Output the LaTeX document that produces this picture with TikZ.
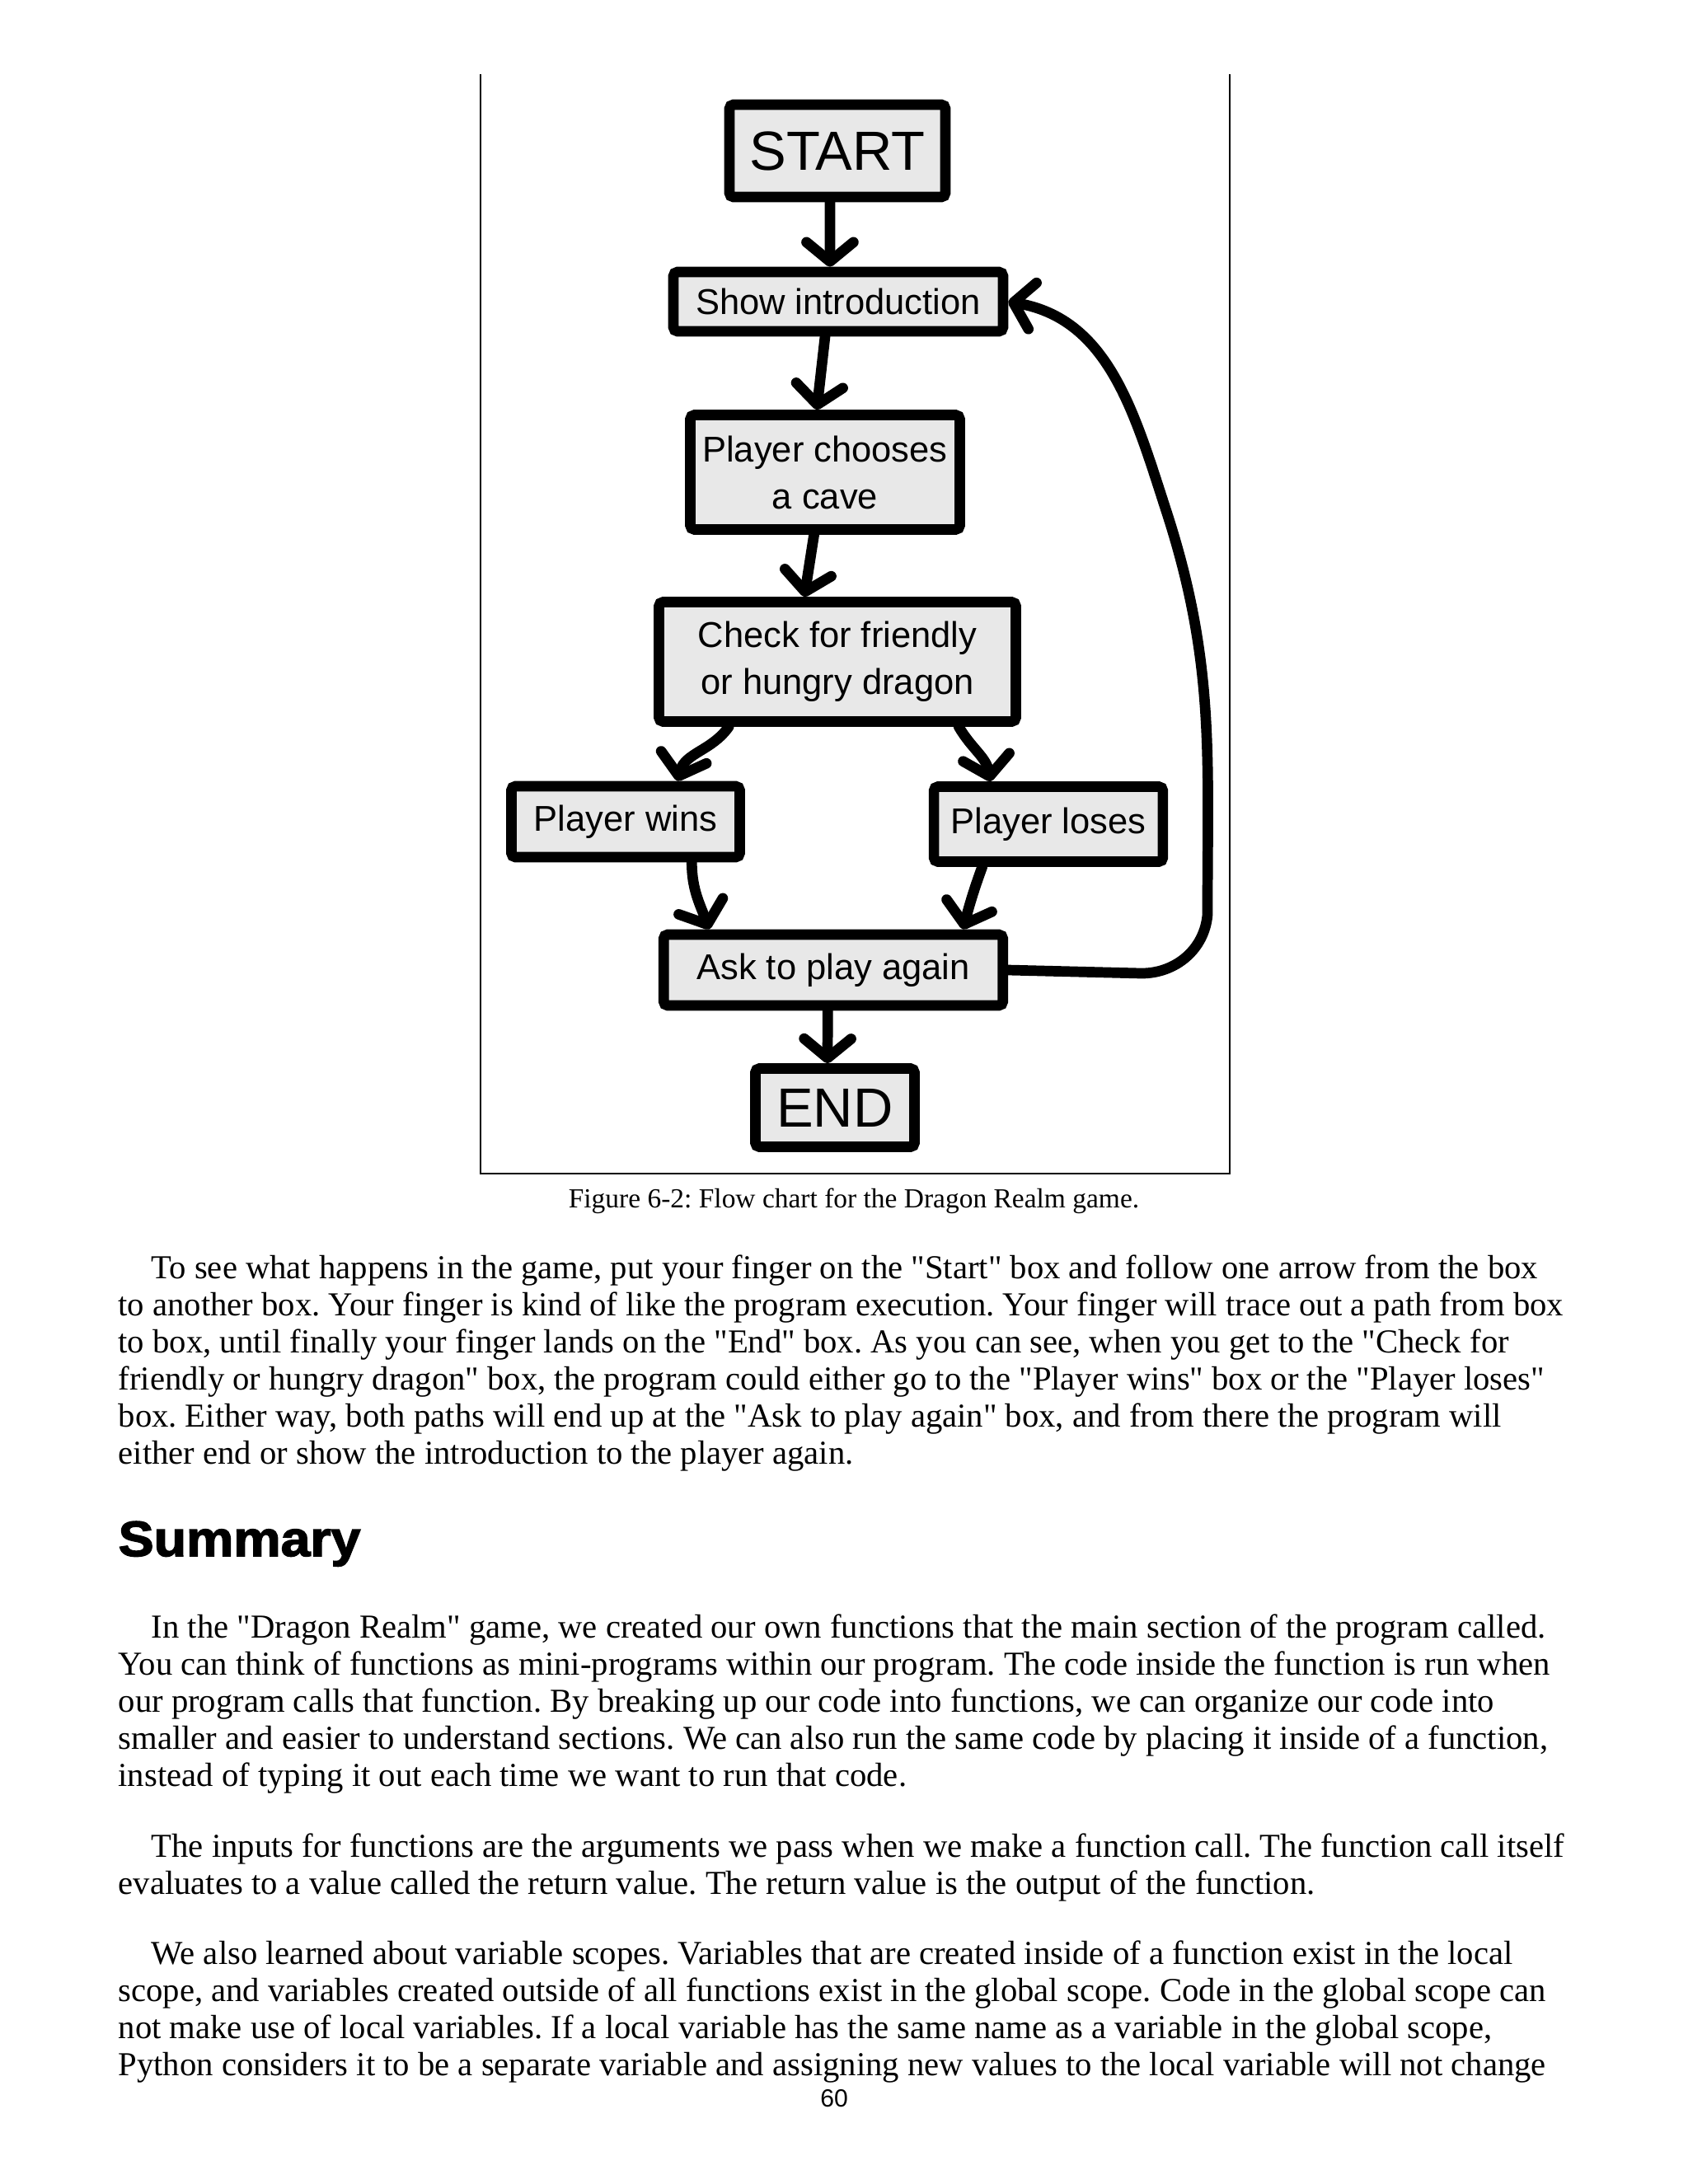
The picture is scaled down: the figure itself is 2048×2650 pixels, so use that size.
\documentclass[tikz,border=0pt]{standalone}
\usepackage{fontspec}
\setmainfont{Liberation Serif}[Ligatures=TeXOff]
\setsansfont{Liberation Sans}
\newfontfamily\headfont{Liberation Sans Bold}[FakeStretch=1.07, FakeBold=2.5]
\usetikzlibrary{arrows.meta}
\frenchspacing

\begin{document}
\begin{tikzpicture}[x=0.29883pt, y=0.29883pt,
        box/.style={draw=black, fill=black!9, line width=3.8pt, rounded corners=1.5pt, align=center, inner sep=0pt, font={\sffamily\fontsize{13}{17}\selectfont}},
        flow/.style={line width=3.8pt, line cap=round, -{Straight Barb[length=7pt, width=17pt, round]}},
        textline/.style={anchor=base west, inner sep=0pt, font={\fontsize{12.15}{14}\selectfont}}]
        \useasboundingbox (0, 0) rectangle (2048, -2650);

        \draw[line width=0.8pt] (583, -90) -- (583, -1424) -- (1492, -1424) -- (1492, -90);

        \node[box, minimum width=78.3pt, minimum height=33.5pt, font={\sffamily\fontsize{20}{24}\selectfont}] (start) at (1016, -183) {START};
        \node[box, minimum width=119.5pt, minimum height=21.5pt] (intro) at (1017, -366) {Show introduction};
        \node[box, minimum width=97.7pt, minimum height=41.5pt] (choose) at (1001, -573) {Player chooses\\a cave};
        \node[box, minimum width=129.4pt, minimum height=43.3pt] (check) at (1016, -803) {Check for friendly\\or hungry dragon};
        \node[box, minimum width=82.8pt, minimum height=25.7pt] (wins) at (759, -997) {Player wins};
        \node[box, minimum width=83pt, minimum height=27.2pt] (loses) at (1272, -1000) {Player loses};
        \node[box, minimum width=123pt, minimum height=25.7pt] (again) at (1011, -1177) {Ask to play again};
        \node[box, minimum width=57.7pt, minimum height=28.4pt, font={\sffamily\fontsize{20}{24}\selectfont}] (finish) at (1013, -1344) {END};

        \draw[flow] ([xshift=-2.7pt]start.south) -- ([xshift=-3pt]intro.north);
        \draw[flow] (choose.north |- intro.south) -- ([xshift=-3pt]choose.north);
        \draw[flow] ([xshift=-4pt]choose.south) -- ([xshift=-12pt]check.north);
        \draw[flow] ([xshift=-39.4pt]check.south) to[out=-125, in=75] ([xshift=18.8pt]wins.north);
        \draw[flow] ([xshift=44pt]check.south) to[out=-60, in=100] ([xshift=-21pt]loses.north);
        \draw[flow] ([xshift=24pt]wins.south) to[out=-90, in=110] ([xshift=-45pt]again.north);
        \draw[flow] ([xshift=-24pt]loses.south) to[out=-110, in=75] ([xshift=47pt]again.north);
        \draw[flow] ([xshift=-2pt]again.south) -- ([xshift=-2.7pt]finish.north);
        \draw[flow] (again.east) -- (1385, -1181) to[out=0, in=-95] (1465, -1110) to[out=90, in=-72] (1415, -620) to[out=108, in=-10] (intro.east);

        \node[anchor=base, inner sep=0pt, font={\fontsize{10}{12}\selectfont}] (caption) at (1036, -1465) {Figure 6-2: Flow chart for the Dragon Realm game.};

        \node[textline] (p1a) at (183, -1551) {To see what happens in the game, put your finger on the "Start" box and follow one arrow from the box};
        \node[textline] (p1b) at (143, -1596) {to another box. Your finger is kind of like the program execution. Your finger will trace out a path from box};
        \node[textline] (p1c) at (143, -1641) {to box, until finally your finger lands on the "End" box. As you can see, when you get to the "Check for};
        \node[textline] (p1d) at (143, -1686) {friendly or hungry dragon" box, the program could either go to the "Player wins" box or the "Player loses"};
        \node[textline] (p1e) at (143, -1731) {box. Either way, both paths will end up at the "Ask to play again" box, and from there the program will};
        \node[textline] (p1f) at (143, -1776) {either end or show the introduction to the player again.};

        \node[anchor=base west, inner sep=0pt, font={\headfont\fontsize{18}{22}\selectfont}] (summary) at (143, -1888) {Summary};

        \node[textline] (p2a) at (183, -1987) {In the "Dragon Realm" game, we created our own functions that the main section of the program called.};
        \node[textline] (p2b) at (143, -2032) {You can think of functions as mini-programs within our program. The code inside the function is run when};
        \node[textline] (p2c) at (143, -2077) {our program calls that function. By breaking up our code into functions, we can organize our code into};
        \node[textline] (p2d) at (143, -2122) {smaller and easier to understand sections. We can also run the same code by placing it inside of a function,};
        \node[textline] (p2e) at (143, -2167) {instead of typing it out each time we want to run that code.};

        \node[textline] (p3a) at (183, -2253) {The inputs for functions are the arguments we pass when we make a function call. The function call itself};
        \node[textline] (p3b) at (143, -2298) {evaluates to a value called the return value. The return value is the output of the function.};

        \node[textline] (p4a) at (183, -2383) {We also learned about variable scopes. Variables that are created inside of a function exist in the local};
        \node[textline] (p4b) at (143, -2428) {scope, and variables created outside of all functions exist in the global scope. Code in the global scope can};
        \node[textline] (p4c) at (143, -2473) {not make use of local variables. If a local variable has the same name as a variable in the global scope,};
        \node[textline] (p4d) at (143, -2518) {Python considers it to be a separate variable and assigning new values to the local variable will not change};

        \node[anchor=base, inner sep=0pt, font={\sffamily\fontsize{9}{11}\selectfont}] (pagenum) at (1012, -2556) {60};
    \end{tikzpicture}
\end{document}
